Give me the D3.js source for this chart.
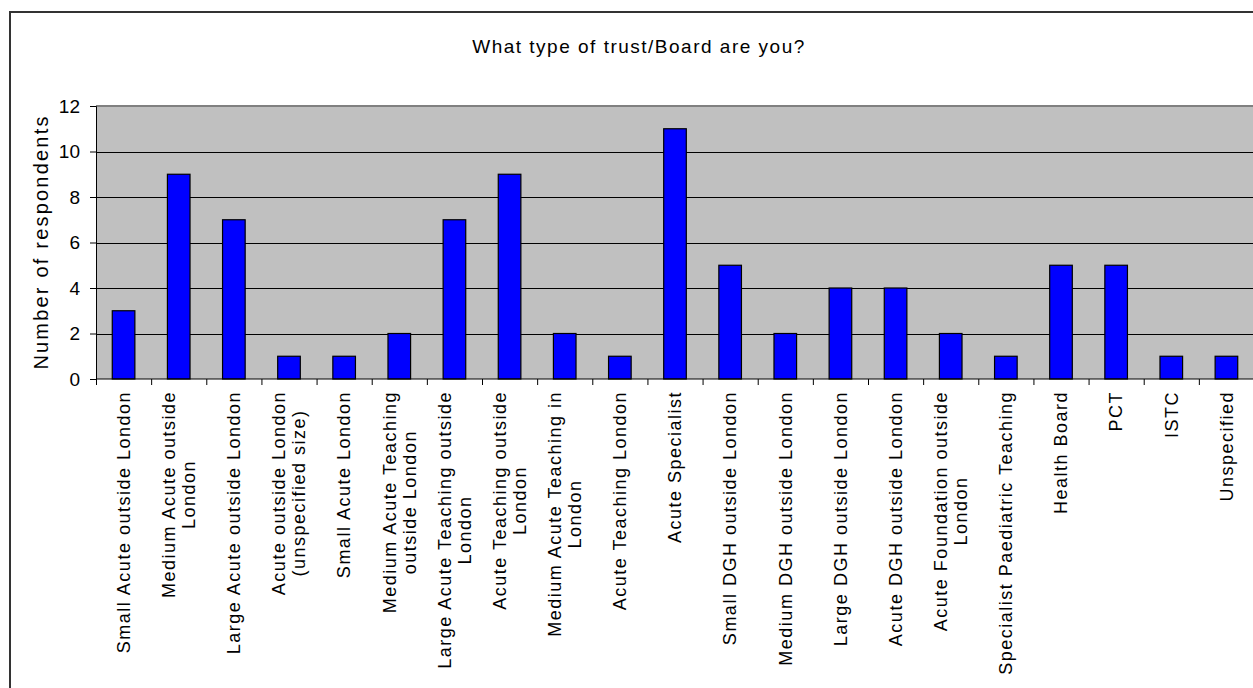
<!DOCTYPE html>
<html><head><meta charset="utf-8">
<script src="https://cdn.jsdelivr.net/npm/d3@7"></script>
<style>
body{margin:0;background:#fff;}
svg{display:block;font-family:"Liberation Sans",Arial,sans-serif;}
</style></head>
<body>
<svg id="chart" width="1253" height="688"></svg>
<script>
const categories = [
  "Small Acute outside London",
  "Medium  Acute outside\nLondon",
  "Large Acute outside London",
  "Acute outside London\n(unspecified size)",
  "Small Acute London",
  "Medium Acute Teaching\noutside London",
  "Large Acute Teaching outside\nLondon",
  "Acute Teaching outside\nLondon",
  "Medium  Acute Teaching in\nLondon",
  "Acute Teaching London",
  "Acute Specialist",
  "Small DGH outside London",
  "Medium DGH outside London",
  "Large DGH outside London",
  "Acute DGH outside London",
  "Acute Foundation outside\nLondon",
  "Specialist Paediatric Teaching",
  "Health Board",
  "PCT",
  "ISTC",
  "Unspecified"
];
const respondents = [3, 9, 7, 1, 1, 2, 7, 9, 2, 1, 11, 5, 2, 4, 4, 2, 1, 5, 5, 1, 1];
const yTicks = [0, 2, 4, 6, 8, 10, 12];
const chartTitle = "What type of trust/Board are you?";
const yTitle = "Number of respondents";

const svg = d3.select("#chart");
const L = 96, R = 1254, T = 106, B = 379;

// outer frame
svg.append("rect").attr("x", 10).attr("y", 12).attr("width", 1260).attr("height", 700)
  .attr("fill", "none").attr("stroke", "#333").attr("stroke-width", 2);

const x = d3.scaleBand().domain(d3.range(categories.length)).range([L, R]).paddingInner(0.59).paddingOuter(0.295);
const xb = d3.scaleBand().domain(d3.range(categories.length)).range([L, R]);
const y = d3.scaleLinear().domain([0, 12]).range([B, T]);

// plot area
svg.append("rect").attr("x", L).attr("y", T).attr("width", R - L).attr("height", B - T).attr("fill", "#c0c0c0");
// gridlines
svg.append("g").selectAll("line").data(yTicks.filter(d => d > 0 && d < 12)).join("line")
  .attr("x1", L).attr("x2", R).attr("y1", d => Math.round(y(d)) + 0.5).attr("y2", d => Math.round(y(d)) + 0.5)
  .attr("stroke", "#000").attr("stroke-width", 1);
svg.append("line").attr("x1", L).attr("x2", R).attr("y1", y(12)).attr("y2", y(12))
  .attr("stroke", "#808080").attr("stroke-width", 2);

// bars
svg.append("g").selectAll("rect").data(respondents).join("rect")
  .attr("x", (d, i) => x(i)).attr("width", x.bandwidth())
  .attr("y", d => y(d)).attr("height", d => B - y(d))
  .attr("fill", "#0000ff").attr("stroke", "#000").attr("stroke-width", 1.2);

// y axis
const yAxis = d3.axisLeft(y).tickValues(yTicks).tickSize(6).tickPadding(10);
const gy = svg.append("g").attr("transform", `translate(${L},0)`).call(yAxis);
gy.select(".domain").attr("stroke", "#000");
gy.selectAll(".tick line").attr("stroke", "#000");
gy.selectAll(".tick text").attr("font-size", 19).attr("fill", "#000")
  .attr("font-family", "Liberation Sans, Arial, sans-serif");

// x axis: baseline + tick marks at band boundaries
const xAxis = d3.axisBottom(d3.scaleLinear().domain([0, categories.length]).range([L, R]))
  .tickValues(d3.range(categories.length + 1)).tickSize(6).tickFormat("");
const gx = svg.append("g").attr("transform", `translate(0,${B})`).call(xAxis);
gx.select(".domain").attr("stroke", "#000").attr("d", `M${L},0H${R}`);
gx.selectAll(".tick line").attr("stroke", "#000");

// x labels
const fsz = 18, ls = 1.5, lh = 20;
const lab = svg.append("g").attr("font-size", fsz).attr("letter-spacing", ls).attr("fill", "#000")
  .style("white-space", "pre");
categories.forEach((c, i) => {
  const lines = c.split("\n");
  const g = lab.append("g").attr("transform", `translate(${xb(i) + xb.bandwidth() / 2},${B + 12}) rotate(-90)`);
  const ts = lines.map((t, k) => g.append("text").attr("dy", "0.35em")
    .attr("y", (k - (lines.length - 1) / 2) * lh).text(t));
  const w = d3.max(ts, t => t.node().getComputedTextLength());
  ts.forEach(t => t.attr("text-anchor", "middle").attr("x", -w / 2));
});

// title
svg.append("text").attr("x", 639).attr("y", 53).attr("text-anchor", "middle")
  .attr("font-size", 19).attr("letter-spacing", 1.5).attr("fill", "#000").text(chartTitle);

// y title
svg.append("text").attr("transform", `translate(48,242) rotate(-90)`).attr("text-anchor", "middle")
  .attr("font-size", 20).attr("letter-spacing", 2.2).attr("fill", "#000").text(yTitle);
</script>
</body></html>
